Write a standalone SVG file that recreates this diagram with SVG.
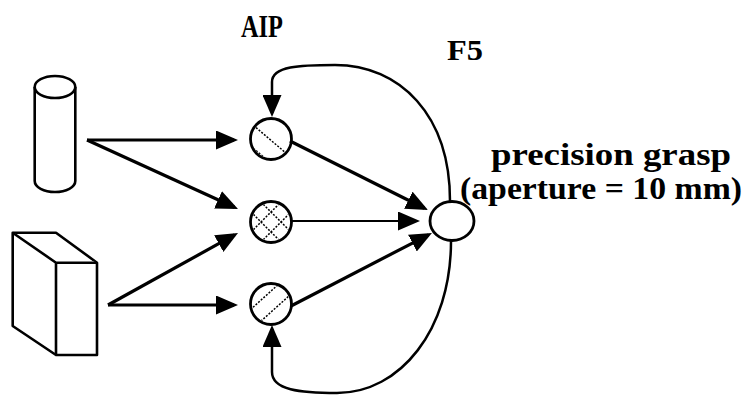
<svg xmlns="http://www.w3.org/2000/svg" width="750" height="396" viewBox="0 0 750 396">
<style>
.obj{fill:#fff;stroke:#000;stroke-width:2.6;stroke-linejoin:round}
.unit{fill:#fff;stroke:#000;stroke-width:2.8}
.hatch{fill:none;stroke:#000;stroke-width:1.5;stroke-dasharray:2 1.5}
.arr{fill:none;stroke:#000;stroke-width:3.2}
.thin{fill:none;stroke:#000;stroke-width:1.9}
.fb{fill:none;stroke:#000;stroke-width:2.5}
.lbl{font-family:"Liberation Serif","Times New Roman",serif;font-weight:bold;fill:#000}
</style>
<defs>
<marker id="ah" markerUnits="userSpaceOnUse" markerWidth="22" markerHeight="19" viewBox="0 0 22 19" refX="18" refY="9.5" orient="auto">
<path d="M0,0 L22,9.5 L0,19 z" fill="#000"/>
</marker>
<clipPath id="c1"><circle cx="271" cy="139" r="19"/></clipPath>
<clipPath id="c2"><circle cx="271" cy="222" r="19"/></clipPath>
<clipPath id="c3"><circle cx="271" cy="304" r="19"/></clipPath>
</defs>

<g id="cylinder">
<path class="obj" d="M34.7,87 L34.7,181 A20.3,11 0 0 0 75.3,181 L75.3,87"/>
<ellipse class="obj" cx="55" cy="87" rx="20.3" ry="11"/>
</g>

<g id="box">
<path class="obj" d="M12.7,232.7 L56,232.7 L97,262.7 L97,355 L56,355 L12.7,326 Z"/>
<path class="obj" fill="none" d="M12.7,232.7 L56,262.7 L97,262.7 M56,262.7 L56,355"/>
</g>

<g id="aip-top">
<circle class="unit" cx="271" cy="139" r="20.5"/>
<g clip-path="url(#c1)">
<line class="hatch" x1="240" y1="114" x2="300" y2="165"/>
<line class="hatch" x1="240" y1="137" x2="300" y2="188"/>
</g>
</g>

<g id="aip-mid">
<circle class="unit" cx="271" cy="222" r="20.5"/>
<g clip-path="url(#c2)">
<line class="hatch" x1="241" y1="202" x2="301" y2="262"/>
<line class="hatch" x1="241" y1="182" x2="301" y2="242"/>
<line class="hatch" x1="241" y1="242" x2="301" y2="182"/>
<line class="hatch" x1="241" y1="262" x2="301" y2="202"/>
</g>
</g>

<g id="aip-bot">
<circle class="unit" cx="271" cy="304" r="20.5"/>
<g clip-path="url(#c3)">
<line class="hatch" x1="240" y1="319" x2="300" y2="265"/>
<line class="hatch" x1="240" y1="340" x2="300" y2="286"/>
</g>
</g>

<g id="f5">
<ellipse class="unit" cx="452" cy="221" rx="22" ry="19.5"/>
</g>

<g id="connectors">
<path class="arr" marker-end="url(#ah)" d="M87,140 L234,140"/>
<path class="arr" marker-end="url(#ah)" d="M87,140 L234.4,207.3"/>
<path class="arr" marker-end="url(#ah)" d="M108,305 L234.5,234.9"/>
<path class="arr" marker-end="url(#ah)" d="M108,305 L234,305"/>
<path class="arr" marker-end="url(#ah)" d="M290,141 L424.4,208.2"/>
<path class="thin" marker-end="url(#ah)" d="M291,221 L416,221"/>
<path class="arr" marker-end="url(#ah)" d="M291,306 L428.4,234.8"/>
<path class="fb" marker-end="url(#ah)" d="M450,201 C450,115 400,65 335,65 C300,65 272,66 272,82 L272,113"/>
<path class="fb" marker-end="url(#ah)" d="M451,241 C451,330 400,393 337,393 C300,393 272,390 272,372 L272,329"/>
</g>

<g id="labels">
<text class="lbl" font-size="32" x="241" y="36.5" textLength="42" lengthAdjust="spacingAndGlyphs">AIP</text>
<text class="lbl" font-size="29" x="447" y="60" textLength="36" lengthAdjust="spacingAndGlyphs">F5</text>
<text class="lbl" font-size="32" x="491" y="165" textLength="240" lengthAdjust="spacingAndGlyphs">precision grasp</text>
<text class="lbl" font-size="32" x="460" y="199" textLength="282" lengthAdjust="spacingAndGlyphs">(aperture = 10 mm)</text>
</g>
</svg>
